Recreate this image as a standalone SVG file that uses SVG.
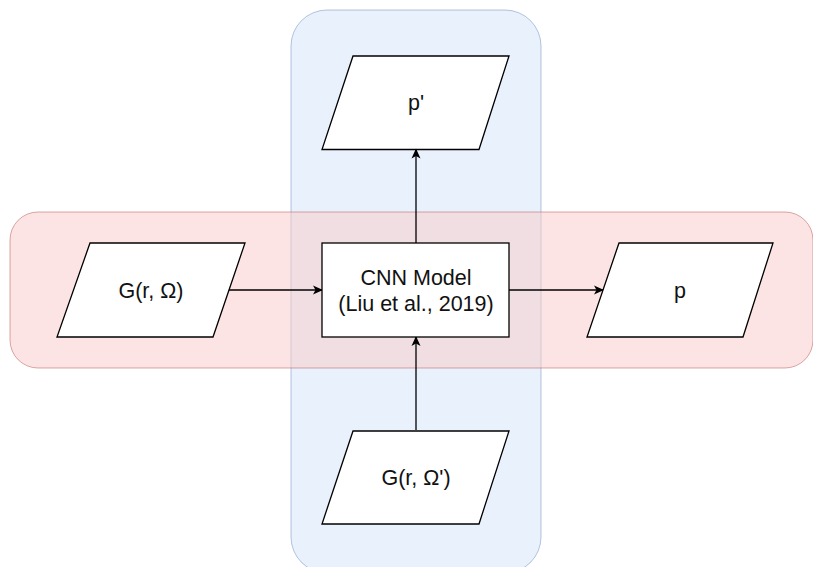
<svg xmlns="http://www.w3.org/2000/svg" width="813" height="567" viewBox="0 0 813 567">
<style>
.shape{fill:#fff;stroke:#000;stroke-width:1.3}
.lbl{font-family:"Liberation Sans",Arial,sans-serif;font-size:21.5px;fill:#111;text-anchor:middle;dominant-baseline:central}
.conn{stroke:#000;stroke-width:1.3;fill:none;marker-end:url(#arr)}
</style>
<defs>
<marker id="arr" markerWidth="12" markerHeight="12" refX="10" refY="6" orient="auto" markerUnits="userSpaceOnUse">
<path d="M1,1.5 L11,6 L1,10.5 L3.5,6 Z" fill="#000"/>
</marker>
</defs>
<rect width="813" height="567" fill="#fff"/>
<g id="blue-band">
<rect x="291" y="10" width="250" height="563" rx="36" fill="#dae8fc" fill-opacity="0.6" stroke="#6c8ebf" stroke-opacity="0.5"/>
</g>
<g id="red-band">
<rect x="10" y="212" width="803" height="156" rx="28" fill="#f8cecc" fill-opacity="0.55" stroke="#b85450" stroke-opacity="0.5"/>
</g>
<g id="connectors">
<path class="conn" d="M229,290 L322,290"/>
<path class="conn" d="M509,290 L603,290"/>
<path class="conn" d="M416,243 L416,149.5"/>
<path class="conn" d="M416,430 L416,337"/>
</g>
<g id="p-prime">
<polygon class="shape" points="353,56 509,56 479,149.5 322,149.5"/>
<text class="lbl" x="416" y="103">p'</text>
</g>
<g id="g-omega">
<polygon class="shape" points="90,243 245,243 213,337 57,337"/>
<text class="lbl" x="151" y="291">G(r, Ω)</text>
</g>
<g id="cnn">
<rect class="shape" x="322" y="243" width="187" height="94"/>
<text class="lbl" x="416" y="278">CNN Model</text>
<text class="lbl" x="416" y="304">(Liu et al., 2019)</text>
</g>
<g id="p">
<polygon class="shape" points="619,243 773,243 743,337 587,337"/>
<text class="lbl" x="680" y="291">p</text>
</g>
<g id="g-omega-prime">
<polygon class="shape" points="353,431 509,431 479,524 322,524"/>
<text class="lbl" x="416" y="478">G(r, Ω')</text>
</g>
</svg>
